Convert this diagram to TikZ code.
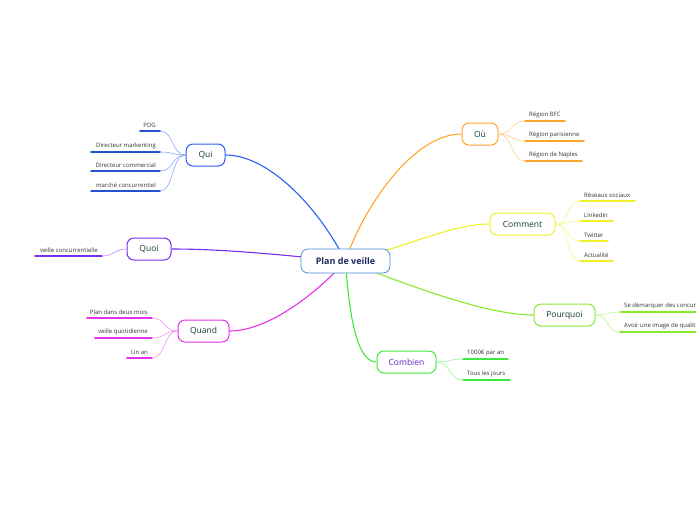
\documentclass[tikz,border=0pt]{standalone}
\usepackage{fontspec}
\setmainfont{Open Sans}
\usetikzlibrary{positioning,backgrounds}
\definecolor{quiC}{HTML}{2B5EF7}
\definecolor{quoiC}{HTML}{7A2CF2}
\definecolor{quandC}{HTML}{E630E6}
\definecolor{ouC}{HTML}{FFA42A}
\definecolor{commentC}{HTML}{F0F028}
\definecolor{pourquoiC}{HTML}{88E82C}
\definecolor{combienC}{HTML}{3EE83E}
\definecolor{topicText}{HTML}{163F30}
\definecolor{rootText}{HTML}{1B2A5A}
\definecolor{rootLine}{HTML}{4A8FD8}
\begin{document}
\begin{tikzpicture}[x=1pt,y=-1pt,line cap=round,line join=round,
  topic/.style={draw=#1,fill=white,rounded corners=7pt,line width=1pt,minimum height=22pt,
    inner xsep=2pt,font=\fontsize{8.5}{10}\selectfont,text=topicText},
  leaf/.style={inner sep=0pt,font=\fontsize{6}{7}\selectfont,text=black!80},
  uline/.style={line width=1.6pt,draw=#1},
  twig/.style={line width=.6pt,draw=#1!55},
  branch/.style={line width=1.1pt,draw=#1}]
  \clip (0,0) rectangle (696,520);
  \useasboundingbox (0,0) rectangle (696,520);
  % root and main topics
  \node[draw=rootLine,fill=white,rounded corners=7pt,line width=.8pt,minimum width=89pt,minimum height=24pt,
    font=\bfseries\fontsize{9}{10}\selectfont,text=rootText] (pv) at (345.5,261) {Plan de veille};
  \node[topic=quiC,minimum width=39pt] (qui) at (205.5,155) {Qui};
  \node[topic=quoiC,minimum width=44pt] (quoi) at (149,249) {Quoi};
  \node[topic=quandC,minimum width=51pt] (quand) at (203.5,331) {Quand};
  \node[topic=ouC,minimum width=36pt] (ou) at (480,134) {Où};
  \node[topic=commentC,minimum width=65pt] (comment) at (522.5,224) {Comment};
  \node[topic=pourquoiC,minimum width=61pt] (pourquoi) at (564.5,315) {Pourquoi};
  \node[topic=combienC,minimum width=59pt,text=quoiC!80!black] (combien) at (406.5,362) {Combien};
  \begin{pgfonlayer}{background}
    \draw[branch=quiC] (pv.center) .. controls (320,210) and (270,155) .. (qui.east);
    \draw[branch=quoiC] (pv.center) .. controls (290,256) and (230,249) .. (quoi.east);
    \draw[branch=quandC] (pv.center) .. controls (320,290) and (270,331) .. (quand.east);
    \draw[branch=ouC] (pv.center) .. controls (360,215) and (410,134) .. (ou.west);
    \draw[branch=commentC] (pv.center) .. controls (400,250) and (450,224) .. (comment.west);
    \draw[branch=pourquoiC] (pv.center) .. controls (420,290) and (490,315) .. (pourquoi.west);
    \draw[branch=combienC] (pv.center) .. controls (350,330) and (360,362) .. (combien.west);
  \end{pgfonlayer}
  % leaves on the left
  \foreach \y/\w/\t [count=\i] in {131/20/PDG,152/69/Directeur markenting,171/69/Directeur commercial,191/69/marché concurrentiel}{
    \coordinate (qui\i) at (160,\y);
    \draw[uline=quiC!85!black] (qui\i) -- +(-\w,0);
    \node[leaf,anchor=south east] at ([xshift=-4pt,yshift=3pt]qui\i) {\t};
    \draw[twig=quiC] (qui.west) .. controls +(-14,0) and +(14,0) .. (qui\i);
  }
  \coordinate (quoi1) at (102,256);
  \draw[uline=quoiC] (quoi1) -- +(-67,0);
  \node[leaf,anchor=south east] at ([xshift=-4pt,yshift=3pt]quoi1) {veille concurrentielle};
  \draw[twig=quoiC] (quoi.west) .. controls +(-12,0) and +(12,0) .. (quoi1);
  \foreach \y/\w/\t [count=\i] in {318/65/Plan dans deux mois,338/57/veille quotidienne,358/25/Un an}{
    \coordinate (quand\i) at (152,\y);
    \draw[uline=quandC] (quand\i) -- +(-\w,0);
    \node[leaf,anchor=south east] at ([xshift=-4pt,yshift=3pt]quand\i) {\t};
    \draw[twig=quandC] (quand.west) .. controls +(-14,0) and +(14,0) .. (quand\i);
  }
  % leaves on the right
  \foreach \y/\w/\t [count=\i] in {121/40/Région BFC,141/59/Région parisienne,161/57/Région de Naples}{
    \coordinate (ou\i) at (525,\y);
    \draw[uline=ouC] (ou\i) -- +(\w,0);
    \node[leaf,anchor=south west] at ([xshift=4pt,yshift=3pt]ou\i) {\t};
    \draw[twig=ouC] (ou.east) .. controls +(14,0) and +(-14,0) .. (ou\i);
  }
  \foreach \y/\w/\t [count=\i] in {201/55/Réseaux sociaux,221/33/Linkedin,241/28/Twitter,261/33/Actualité}{
    \coordinate (comment\i) at (580,\y);
    \draw[uline=commentC] (comment\i) -- +(\w,0);
    \node[leaf,anchor=south west] at ([xshift=4pt,yshift=3pt]comment\i) {\t};
    \draw[twig=commentC] (comment.east) .. controls +(14,0) and +(-14,0) .. (comment\i);
  }
  \foreach \y/\t [count=\i] in {312/Se démarquer des concurrents,332/Avoir une image de qualité}{
    \coordinate (pourquoi\i) at (620,\y);
    \draw[uline=pourquoiC] (pourquoi\i) -- +(90,0);
    \node[leaf,anchor=south west] at ([xshift=4pt,yshift=3pt]pourquoi\i) {\t};
    \draw[twig=pourquoiC] (pourquoi.east) .. controls +(14,0) and +(-14,0) .. (pourquoi\i);
  }
  \foreach \y/\w/\t [count=\i] in {359/45/1000€ par an,380/47/Tous les jours}{
    \coordinate (combien\i) at (463,\y);
    \draw[uline=combienC] (combien\i) -- +(\w,0);
    \node[leaf,anchor=south west] at ([xshift=4pt,yshift=3pt]combien\i) {\t};
    \draw[twig=combienC] (combien.east) .. controls +(14,0) and +(-14,0) .. (combien\i);
  }
\end{tikzpicture}
\end{document}
